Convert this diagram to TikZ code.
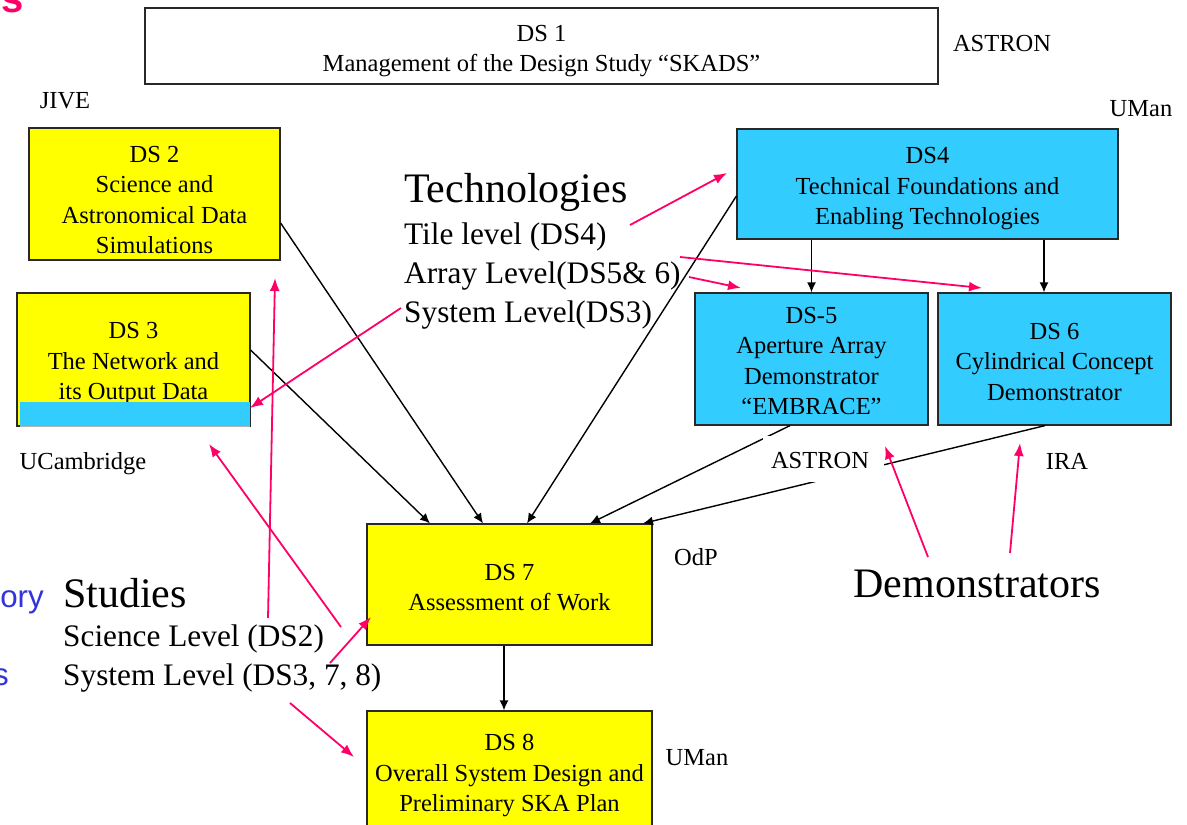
\documentclass[tikz,border=0pt]{standalone}
\usepackage{fontspec}
\setmainfont{Liberation Serif}
\newfontfamily\arialfont{Liberation Sans}
\usetikzlibrary{arrows.meta,calc}
\definecolor{boxyellow}{RGB}{255,255,0}
\definecolor{boxcyan}{RGB}{51,204,255}
\definecolor{pinkarrow}{RGB}{255,0,102}
\definecolor{bluetext}{RGB}{51,51,221}
\definecolor{boxborder}{RGB}{40,40,40}
\newcommand\myboxfont{\fontsize{24.5}{30.5}\selectfont}
\newcommand\mybigfont{\fontsize{42}{50}\selectfont}
\newcommand\mymidfont{\fontsize{31.3}{39}\selectfont}
\begin{document}
\begin{tikzpicture}[x=1pt,y=-1pt,
  dsbox/.style={draw=boxborder, line width=1.2pt, inner sep=0pt},
  ybox/.style={dsbox, fill=boxyellow},
  cbox/.style={dsbox, fill=boxcyan},
  boxtext/.style={inner sep=0pt, align=center, font=\myboxfont},
  lbl/.style={inner sep=0pt, anchor=base, font=\myboxfont},
  bigtxt/.style={inner sep=0pt, anchor=base west, font=\mybigfont},
  midtxt/.style={inner sep=0pt, anchor=base west, font=\mymidfont},
  blk/.style={line width=1.4pt, -{Latex[length=10pt,width=9pt]}},
  pnk/.style={draw=pinkarrow, line width=1.8pt, -{Latex[length=13pt,width=10pt]}}
]
\useasboundingbox (0,0) rectangle (1187,825);
\clip (0,0) rectangle (1187,825);
\fill[white] (0,0) rectangle (1187,825);

% boxes
\node[dsbox, fill=white, minimum width=793pt, minimum height=76pt,
  label={[boxtext, yshift=-5pt]center:{DS 1\\Management of the Design Study “SKADS”}}] (ds1) at (541.5,46) {};
\node[ybox, minimum width=251pt, minimum height=132pt,
  label={[boxtext, yshift=-6pt]center:{DS 2\\Science and\\Astronomical Data\\Simulations}}] (ds2) at (154.5,194) {};
\node[ybox, minimum width=233pt, minimum height=133pt,
  label={[boxtext, yshift=-4pt]center:{DS 3\\The Network and\\its Output Data}}] (ds3) at (133.5,359.5) {};
\fill[boxcyan] (20,402) rectangle (250,426);
\draw[gray!60, line width=0.8pt] (20,426) -- (250,426);
\node[cbox, minimum width=381pt, minimum height=110pt,
  label={[boxtext, yshift=-5pt]center:{DS4\\Technical Foundations and\\Enabling Technologies}}] (ds4) at (927.5,184) {};
\node[cbox, minimum width=233pt, minimum height=132pt,
  label={[boxtext, yshift=-2pt]center:{DS-5\\Aperture Array\\Demonstrator\\“EMBRACE”}}] (ds5) at (811.5,359) {};
\node[cbox, minimum width=233pt, minimum height=132pt,
  label={[boxtext, yshift=-3pt]center:{DS 6\\Cylindrical Concept\\Demonstrator}}] (ds6) at (1054.5,359) {};
\node[ybox, minimum width=285pt, minimum height=121pt,
  label={[boxtext, yshift=-3pt]center:{DS 7\\Assessment of Work}}] (ds7) at (509.5,584.5) {};
\node[ybox, minimum width=285pt, minimum height=125pt,
  label={[boxtext, yshift=-2pt]center:{DS 8\\Overall System Design and\\Preliminary SKA Plan}}] (ds8) at (509.5,773.5) {};

% labels
\node[lbl] (lastron1) at (1002,51) {ASTRON};
\node[lbl] (ljive) at (65,108) {JIVE};
\node[lbl] (luman1) at (1141,116) {UMan};
\node[lbl] (lucam) at (83,469) {UCambridge};
\node[lbl] (lira) at (1067,469) {IRA};
\node[lbl] (lodp) at (696,565) {OdP};
\node[lbl] (luman2) at (697,765) {UMan};

% text blocks
\node[bigtxt] (tech0) at (404,202) {Technologies};
\node[midtxt] (tech1) at (404,244) {Tile level (DS4)};
\node[midtxt] (tech2) at (404,283) {Array Level(DS5\& 6)};
\node[midtxt] (tech3) at (404,322) {System Level(DS3)};
\node[bigtxt] (stud0) at (63,607) {Studies};
\node[midtxt] (stud1) at (63,646) {Science Level (DS2)};
\node[midtxt] (stud2) at (63,685) {System Level (DS3, 7, 8)};
\node[bigtxt, anchor=base east] (demo) at (1101,597) {Demonstrators};
\node[inner sep=0pt, anchor=base east, text=bluetext, font=\arialfont\mymidfont] (blue1) at (44,607) {ory};
\node[inner sep=0pt, anchor=base east, text=bluetext, font=\arialfont\mymidfont] (blue2) at (9,685) {s};
\node[inner sep=0pt, anchor=base east, text=pinkarrow, font=\arialfont\bfseries\fontsize{40}{48}\selectfont] (pinks) at (24,12) {s};

% black connectors
\draw[blk] ($(ds2.east)+(0,29)$) -- ($(ds7.north)+(-26.5,0)$);
\draw[blk] ($(ds3.east)+(0,-9.5)$) -- ($(ds7.north)+(-79.5,0)$);
\draw[blk] ($(ds4.west)+(0,12)$) -- ($(ds7.north)+(17.5,0)$);
\draw[blk] ($(ds5.south)+(-21.5,0)$) -- ($(ds7.north)+(80.5,0)$);
\draw[blk] ($(ds6.south)+(-9.5,0)$) -- ($(ds7.north)+(133.5,0)$);
\draw[blk] (ds4.south -| ds5.north) -- (ds5.north);
\coordinate (d6top) at ($(ds6.north)+(-10.5,0)$);
\draw[blk] (d6top |- ds4.south) -- (d6top);
\coordinate (d8top) at ($(ds8.north)+(-5.5,0)$);
\draw[blk] (d8top |- ds7.south) -- (d8top);

% label with white background over lines
\node[fill=white, inner sep=0pt, minimum width=121pt, minimum height=46pt] (astronbg) at (823.5,459) {};
\node[lbl] (lastron2) at (820,468) {ASTRON};

% pink arrows
\coordinate (t1s) at (630,225); \coordinate (t1e) at (727,173);
\coordinate (t2s) at (680,257); \coordinate (t2e) at (982,288);
\coordinate (t3s) at (689,277); \coordinate (t3e) at (741,288);
\coordinate (t4s) at (401,308); \coordinate (t4e) at (250,408);
\coordinate (s1s) at (268,618); \coordinate (s1e) at (275,278);
\coordinate (s2s) at (341,627); \coordinate (s2e) at (209,444);
\coordinate (s3s) at (330,663); \coordinate (s3e) at (371,617);
\coordinate (s4s) at (290,703); \coordinate (s4e) at (354,757);
\coordinate (d1s) at (928,557); \coordinate (d1e) at (885,446);
\coordinate (d2s) at (1010,553); \coordinate (d2e) at (1020,443);
\foreach \a in {t1,t2,t3,t4,s1,s2,s3,s4,d1,d2}{
  \draw[pnk] (\a s) -- (\a e);
}
\end{tikzpicture}
\end{document}
